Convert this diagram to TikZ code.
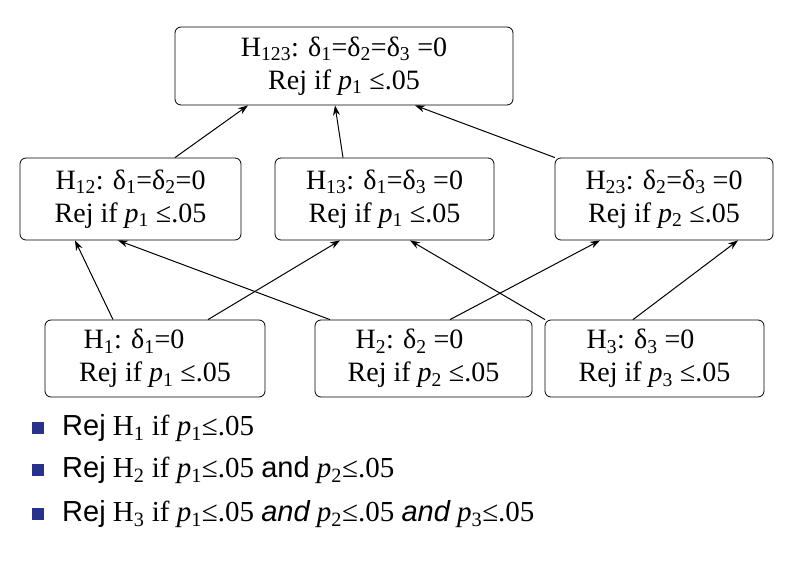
\documentclass[tikz,border=0pt]{standalone}
\usepackage{fontspec}
\setmainfont{Liberation Serif}
\setsansfont{Liberation Sans}
\usetikzlibrary{arrows.meta}
\newcommand{\sbs}[1]{\textsubscript{#1}}
\begin{document}
\begin{tikzpicture}[x=1pt,y=-1pt,
  hbox/.style={draw,rounded corners=6pt,line width=0.8pt,minimum height=78pt,align=center,
    font=\fontsize{28}{33}\selectfont,inner sep=0pt},
  arr/.style={-{Stealth[length=10pt,width=7pt]},line width=1pt},
  bul/.style={anchor=west,font=\fontsize{29}{30}\selectfont,inner sep=0pt}]
\useasboundingbox (0,0) rectangle (796,564);
\node[hbox,minimum width=338pt] (T) at (344,66) {H\sbs{123}: δ\sbs{1}=δ\sbs{2}=δ\sbs{3} =0\\Rej if \emph{p}\sbs{1} ≤.05};
\node[hbox,minimum width=221pt,minimum height=82pt] (A) at (130.5,199) {H\sbs{12}: δ\sbs{1}=δ\sbs{2}=0\\Rej if \emph{p}\sbs{1} ≤.05};
\node[hbox,minimum width=219pt,minimum height=82pt] (B) at (384.5,199) {H\sbs{13}: δ\sbs{1}=δ\sbs{3} =0\\Rej if \emph{p}\sbs{1} ≤.05};
\node[hbox,minimum width=218pt,minimum height=82pt] (C) at (664,199) {H\sbs{23}: δ\sbs{2}=δ\sbs{3} =0\\Rej if \emph{p}\sbs{2} ≤.05};
\node[hbox,minimum width=220pt,minimum height=77pt] (D) at (155,358.5) {H\sbs{1}: δ\sbs{1}=0\phantom{000}\\Rej if \emph{p}\sbs{1} ≤.05};
\node[hbox,minimum width=217pt,minimum height=77pt] (E) at (423.5,358.5) {H\sbs{2}: δ\sbs{2} =0\phantom{00}\\Rej if \emph{p}\sbs{2} ≤.05};
\node[hbox,minimum width=219pt,minimum height=77pt] (F) at (654.5,358.5) {H\sbs{3}: δ\sbs{3} =0\phantom{00}\\Rej if \emph{p}\sbs{3} ≤.05};
\draw[arr] ([xshift=44.5pt]A.north) -- ([xshift=-96pt]T.south);
\draw[arr] ([xshift=-41.5pt]B.north) -- ([xshift=-9pt]T.south);
\draw[arr] ([xshift=-109pt]C.north) -- ([xshift=71pt]T.south);
\draw[arr] ([xshift=-42pt]D.north) -- ([xshift=-55.5pt]A.south);
\draw[arr] ([xshift=53pt]D.north) -- ([xshift=-44.5pt]B.south);
\draw[arr] ([xshift=26.5pt]E.north) -- ([xshift=-64pt]C.south);
\draw[arr] ([xshift=-93.5pt]E.north) -- ([xshift=-12.5pt]A.south);
\draw[arr] ([xshift=-109.5pt]F.north) -- ([xshift=25.5pt]B.south);
\draw[arr] ([xshift=-21.5pt]F.north) -- ([xshift=74pt]C.south);
\foreach \y in {428,470,514}{
  \fill[fill={rgb,255:red,40;green,50;blue,140}] (32,\y-6) rectangle (44,\y+6);
}
\node[bul] (L1) at (62,428) {{\sffamily Rej} H\sbs{1} if \emph{p}\sbs{1}≤.05};
\node[bul] (L2) at (62,470) {{\sffamily Rej} H\sbs{2} if \emph{p}\sbs{1}≤.05 {\sffamily and} \emph{p}\sbs{2}≤.05};
\node[bul] (L3) at (62,514) {{\sffamily Rej} H\sbs{3} if \emph{p}\sbs{1}≤.05 {\sffamily\itshape and} \emph{p}\sbs{2}≤.05 {\sffamily\itshape and} \emph{p}\sbs{3}≤.05};
\end{tikzpicture}
\end{document}
